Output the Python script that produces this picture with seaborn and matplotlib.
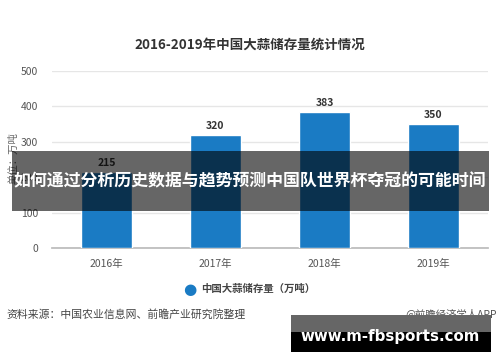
import matplotlib
matplotlib.use("Agg")
import matplotlib.pyplot as plt
import seaborn as sns
import pandas as pd
from matplotlib.patches import Rectangle

years = ["2016年", "2017年", "2018年", "2019年"]
values = [215, 320, 383, 350]
yticks = [0, 100, 200, 300, 400, 500]
title = "2016-2019年中国大蒜储存量统计情况"
legend_label = "中国大蒜储存量（万吨）"
ylabel = "单位：万吨"
source = "资料来源：中国农业信息网、前瞻产业研究院整理"
brand = "@前瞻经济学人APP"
banner = "如何通过分析历史数据与趋势预测中国队世界杯夺冠的可能时间"
site = "www.m-fbsports.com"

sns.set_theme(style="white")
plt.rcParams['font.family'] = ['Noto Sans CJK SC', 'DejaVu Sans']

df = pd.DataFrame({"year": years, "value": values})
W, H = 500, 362
fig = plt.figure(figsize=(5, 3.62), dpi=100)
ax = fig.add_axes([52 / W, 1 - 248 / H, 436 / W, (248 - 71) / H])
sns.barplot(data=df, x="year", y="value", color="#1a7bc4", width=0.47, ax=ax, zorder=3,
            saturation=1)
ax.set_ylim(0, 500)
ax.set_xlim(-0.5, 3.5)
ax.set_yticks(yticks)
ax.set_yticklabels([str(t) for t in yticks], fontsize=7.5, color="#555555")
ax.tick_params(axis="x", labelsize=7.5, colors="#555555", length=0, pad=8)
ax.tick_params(axis="y", length=0, pad=10)
ax.set_xlabel("")
ax.set_ylabel("")
ax.grid(axis="y", color="#e6e6e6", linewidth=1, zorder=0)
for s in ["top", "right", "left"]:
    ax.spines[s].set_visible(False)
ax.spines["bottom"].set_color("#bbbbbb")
for c in ax.containers:
    ax.bar_label(c, labels=[str(v) for v in values], padding=3, fontsize=7.5,
                 fontweight="bold", color="#333333")

fig.text(250 / W, 1 - 45 / H, title, ha="center", va="center", fontsize=9.7,
         fontweight="bold", color="#333333")
fig.text(13 / W, 1 - 158 / H, ylabel, ha="center", va="center", rotation=90,
         fontsize=7.5, color="#666666")

# legend
fig.text(190 / W, 1 - 289 / H, "●", ha="center", va="center", fontsize=11,
         color="#1a7bc4", family=['DejaVu Sans'])
fig.text(201 / W, 1 - 289 / H, legend_label, ha="left", va="center", fontsize=7.5,
         fontweight="bold", color="#444444")

fig.text(6 / W, 1 - 314 / H, source, ha="left", va="center", fontsize=7.8, color="#444444")
fig.text(497 / W, 1 - 314 / H, brand, ha="right", va="center", fontsize=7.5, color="#555555")

# banner overlay
fig.patches.append(Rectangle((12 / W, 1 - 211 / H), (489 - 12) / W, 60 / H,
                             transform=fig.transFigure, facecolor="black", alpha=0.6,
                             edgecolor="none", zorder=10))
fig.text(250 / W, 1 - 181 / H, banner, ha="center", va="center", fontsize=12.2,
         fontweight="bold", color="white", zorder=11)

# site box
fig.patches.append(Rectangle((291 / W, 1 - 352 / H), 200 / W, 37 / H,
                             transform=fig.transFigure, facecolor="black",
                             edgecolor="none", zorder=10))
fig.patches.append(Rectangle((291 / W, 1 - 332 / H), 200 / W, 17 / H,
                             transform=fig.transFigure, facecolor="#666666",
                             edgecolor="none", zorder=10))
fig.text(390 / W, 1 - 336 / H, site, ha="center", va="center", fontsize=10.8,
         fontweight="bold", color="white", zorder=11, family=['DejaVu Sans'])

fig.savefig("out.png", dpi=100)
